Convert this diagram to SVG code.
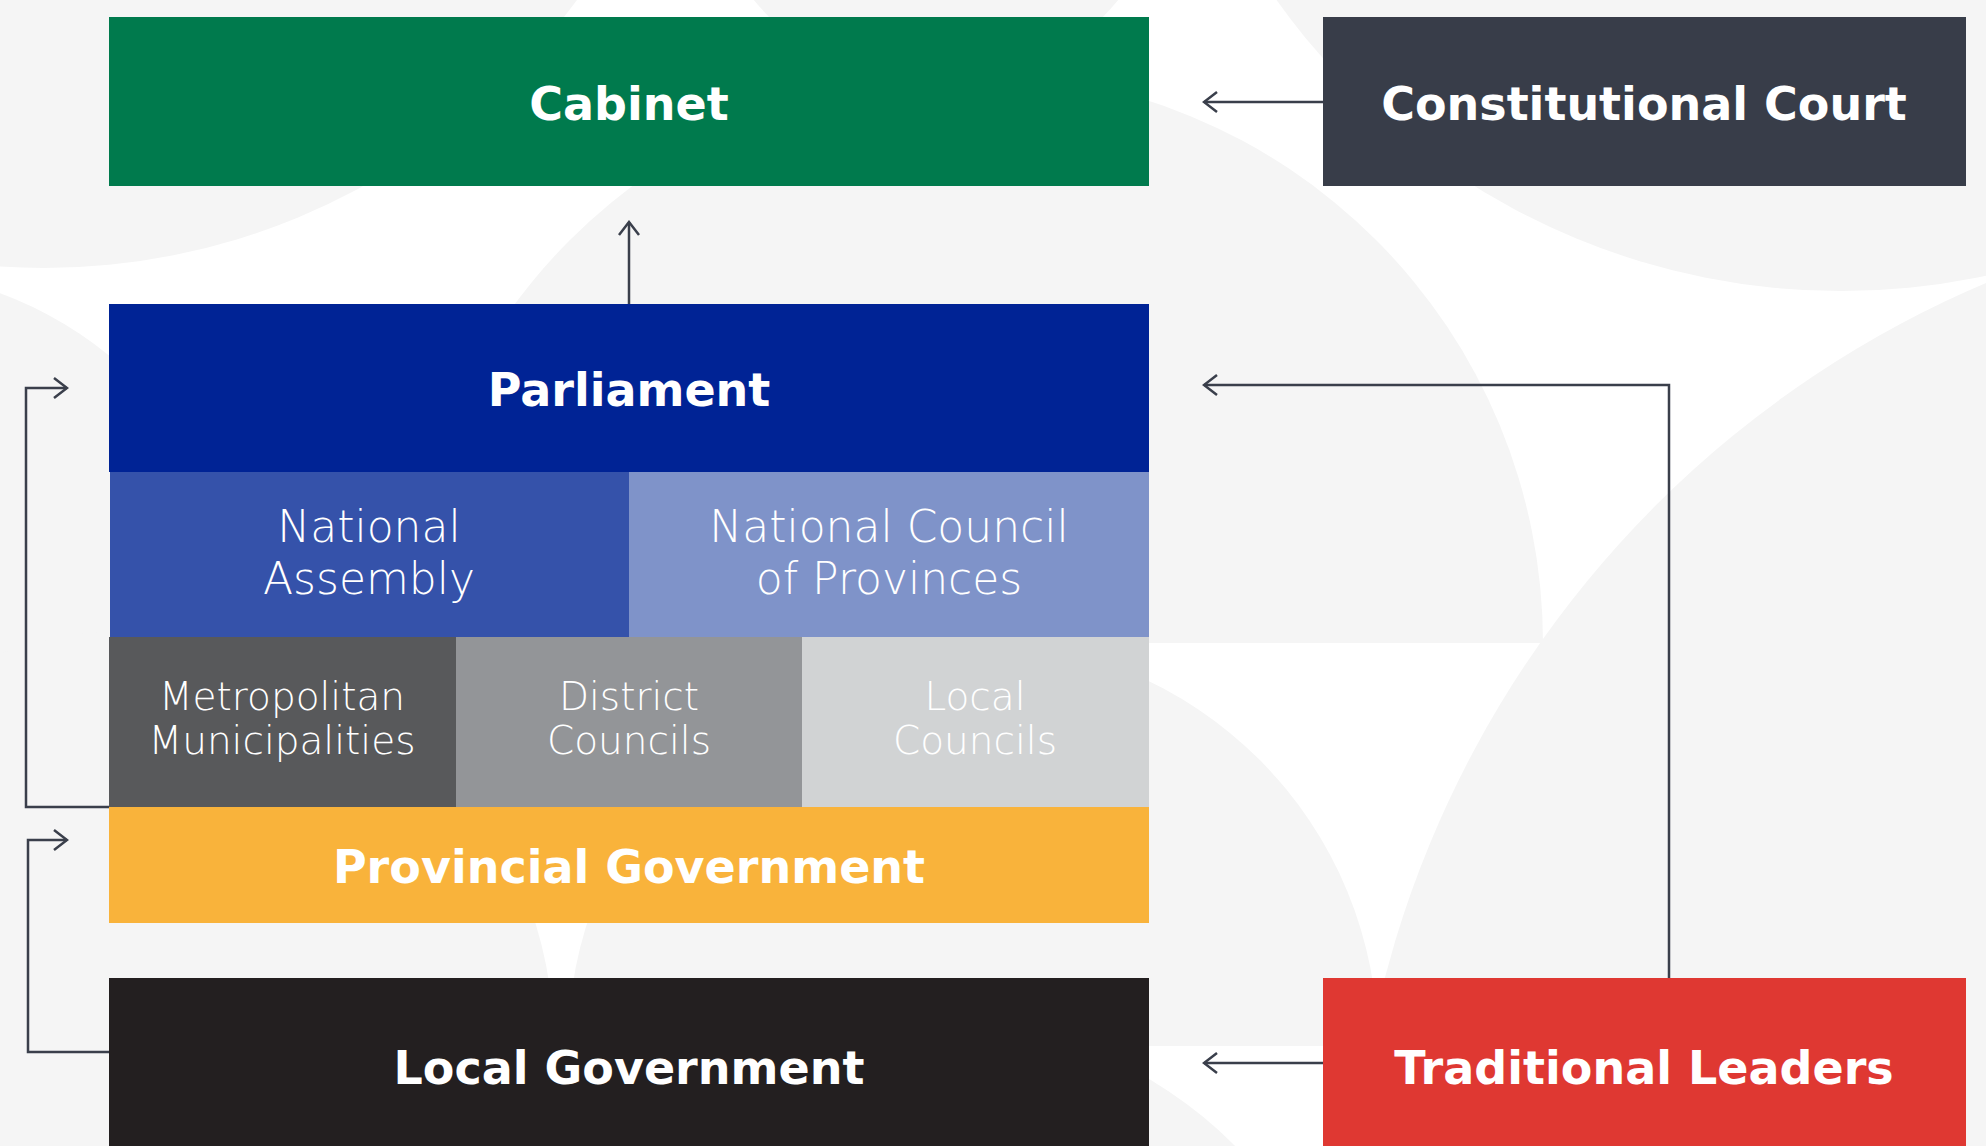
<svg xmlns="http://www.w3.org/2000/svg" width="1986" height="1146" viewBox="0 0 1986 1146">
<defs>
<style>
.bg{fill:#f5f5f5}
.h{font-family:"DejaVu Sans","Liberation Sans",sans-serif;font-weight:bold;font-size:46px;fill:#ffffff;text-anchor:middle}
.s{font-family:"DejaVu Sans","Liberation Sans",sans-serif;font-weight:200;fill:#ffffff;text-anchor:middle}
.s1{font-size:44px}
.s2{font-size:39px}
.c{fill:none;stroke:#3a3f4b;stroke-width:2.5}
</style>
<marker id="ah" viewBox="-2 -12 17 24" markerWidth="17" markerHeight="24" refX="13" refY="0" orient="auto" markerUnits="userSpaceOnUse">
<path d="M0,-10 L13,0 L0,10" fill="none" stroke="#3a3f4b" stroke-width="2.5"/>
</marker>
</defs>
<g id="background">
<rect x="0" y="0" width="1986" height="1146" fill="#ffffff"/>
<circle class="bg" cx="44" cy="-396" r="664"/>
<circle class="bg" cx="1841" cy="-402" r="693"/>
<circle class="bg" cx="936" cy="-150" r="236"/>
<path class="bg" d="M-499,643 A372,372 0 0 1 245,643 Z"/>
<rect class="bg" x="0" y="600" width="110" height="546"/>
<path class="bg" d="M403,643 A570,570 0 0 1 1543,643 Z"/>
<path class="bg" d="M-278,1046 A416,416 0 0 1 554,1046 Z"/>
<path class="bg" d="M568,1046 A405,405 0 0 1 1378,1046 Z"/>
<circle class="bg" cx="2391" cy="1241" r="1040"/>
<circle class="bg" cx="930" cy="1449" r="430"/>
</g>
<g id="connectors">
<line class="c" x1="1323" y1="102" x2="1204" y2="102" marker-end="url(#ah)"/>
<line class="c" x1="629" y1="304" x2="629" y2="222" marker-end="url(#ah)"/>
<polyline class="c" points="1669,978 1669,385 1204,385" marker-end="url(#ah)"/>
<line class="c" x1="1323" y1="1063" x2="1204" y2="1063" marker-end="url(#ah)"/>
<polyline class="c" points="109,807 26,807 26,388 67,388" marker-end="url(#ah)"/>
<polyline class="c" points="109,1052 28,1052 28,840 67,840" marker-end="url(#ah)"/>
</g>
<g id="cabinet">
<rect x="109" y="17" width="1040" height="169" fill="#007a4d"/>
<text class="h" x="629" y="120">Cabinet</text>
</g>
<g id="constitutional-court">
<rect x="1323" y="17" width="643" height="169" fill="#383d49"/>
<text class="h" x="1644" y="120">Constitutional Court</text>
</g>
<g id="parliament">
<rect x="109" y="304" width="1040" height="168" fill="#002395"/>
<text class="h" x="629" y="406">Parliament</text>
</g>
<g id="national-assembly">
<rect x="110" y="472" width="519" height="165" fill="#3552aa"/>
<text class="s s1" x="369" y="542">National</text>
<text class="s s1" x="369" y="594">Assembly</text>
</g>
<g id="ncop">
<rect x="629" y="472" width="520" height="165" fill="#7f93c9"/>
<text class="s s1" x="889" y="542">National Council</text>
<text class="s s1" x="889" y="594">of Provinces</text>
</g>
<g id="metropolitan-municipalities">
<rect x="109" y="637" width="347" height="170" fill="#58595b"/>
<text class="s s2" x="282" y="710">Metropolitan</text>
<text class="s s2" x="282" y="754">Municipalities</text>
</g>
<g id="district-councils">
<rect x="456" y="637" width="346" height="170" fill="#939598"/>
<text class="s s2" x="629" y="710">District</text>
<text class="s s2" x="629" y="754">Councils</text>
</g>
<g id="local-councils">
<rect x="802" y="637" width="347" height="170" fill="#d1d3d4"/>
<text class="s s2" x="975" y="710">Local</text>
<text class="s s2" x="975" y="754">Councils</text>
</g>
<g id="provincial-government">
<rect x="109" y="807" width="1040" height="116" fill="#f9b33b"/>
<text class="h" x="629" y="883">Provincial Government</text>
</g>
<g id="local-government">
<rect x="109" y="978" width="1040" height="168" fill="#231f20"/>
<text class="h" x="629" y="1084">Local Government</text>
</g>
<g id="traditional-leaders">
<rect x="1323" y="978" width="643" height="168" fill="#df3832"/>
<text class="h" x="1644" y="1084">Traditional Leaders</text>
</g>
</svg>
